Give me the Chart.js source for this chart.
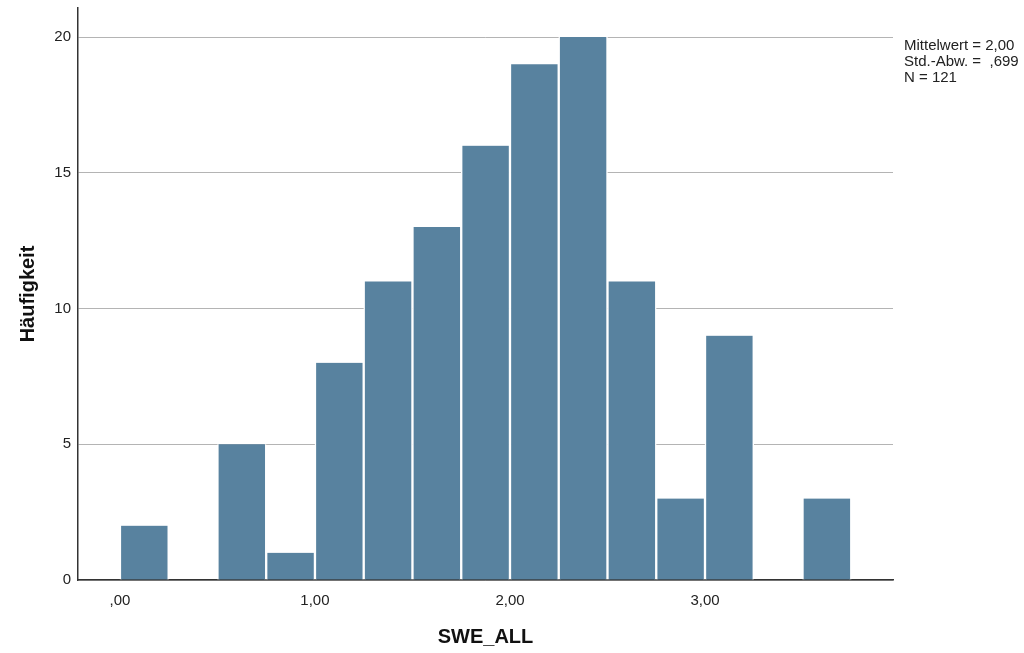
<!DOCTYPE html>
<html>
<head>
<meta charset="utf-8">
<script src="https://cdn.jsdelivr.net/npm/chart.js@4"></script>
<style>
  html, body { margin: 0; padding: 0; background: #fff; }
  #wrap { width: 1024px; height: 653px; }
</style>
</head>
<body>
<div id="wrap"><canvas id="histChart" width="1024" height="653"></canvas></div>
<script>
// bin lower bounds (width 0.25) and counts per bin
const binWidth = 0.25;
const binStarts = [0, 0.25, 0.5, 0.75, 1.0, 1.25, 1.5, 1.75, 2.0, 2.25, 2.5, 2.75, 3.0, 3.25, 3.5];
const counts = [2, 0, 5, 1, 8, 11, 13, 16, 19, 20, 11, 3, 9, 0, 3];
const xTicks = [0, 1, 2, 3];
const yTicks = [0, 5, 10, 15, 20];
const statLines = ['Mittelwert = 2,00', 'Std.-Abw. =  ,699', 'N = 121'];

const font = '"Liberation Sans", Arial, sans-serif';

// German number format like SPSS: 0 -> ",00", 1 -> "1,00"
function fmt(v) {
  return v.toFixed(2).replace('.', ',').replace(/^0,/, ',');
}

const statsBox = {
  id: 'statsBox',
  afterDraw(chart) {
    const ctx = chart.ctx;
    ctx.save();
    ctx.font = '15px ' + font;
    ctx.fillStyle = '#222';
    ctx.textBaseline = 'middle';
    ctx.textAlign = 'left';
    statLines.forEach((line, i) => {
      ctx.fillText(line, chart.chartArea.right + 11, 46 + i * 16);
    });
    ctx.restore();
  }
};

const ctx = document.getElementById('histChart').getContext('2d');
new Chart(ctx, {
  type: 'bar',
  data: {
    datasets: [{
      label: 'SWE_ALL',
      data: binStarts.map((s, i) => ({ x: s + binWidth / 2, y: counts[i] })),
      backgroundColor: '#58829f',
      borderColor: '#ffffff',
      borderWidth: { left: 1.5, right: 1.5, top: 0, bottom: 0 },
      barPercentage: 1,
      categoryPercentage: 1
    }]
  },
  options: {
    responsive: false,
    animation: false,
    layout: { padding: { top: 8, right: 131, left: 0, bottom: 0 } },
    plugins: {
      legend: { display: false },
      tooltip: { enabled: false }
    },
    scales: {
      x: {
        type: 'linear',
        offset: false,
        min: -0.215,
        max: 3.964,
        afterBuildTicks: axis => { axis.ticks = xTicks.map(v => ({ value: v })); },
        afterFit: scale => { scale.height = 73; scale.paddingLeft = 0; scale.paddingRight = 0; },
        grid: { display: false, drawTicks: false, offset: false },
        border: { display: true, color: '#333', width: 1.5 },
        ticks: {
          color: '#222',
          font: { family: font, size: 15 },
          padding: 12,
          maxRotation: 0,
          callback: v => fmt(v)
        },
        title: {
          display: true,
          text: 'SWE_ALL',
          color: '#111',
          font: { family: font, size: 20, weight: 'bold' },
          padding: { top: 0, bottom: 4 }
        }
      },
      y: {
        min: 0,
        max: 21.07,
        afterBuildTicks: axis => { axis.ticks = yTicks.map(v => ({ value: v })); },
        afterFit: scale => { scale.width = 78; scale.paddingTop = 0; scale.paddingBottom = 0; },
        grid: { color: '#b4b4b4', lineWidth: 1, drawTicks: false },
        border: { display: true, color: '#333', width: 1.5 },
        ticks: {
          color: '#222',
          font: { family: font, size: 15 },
          padding: 7
        },
        title: {
          display: true,
          text: 'Häufigkeit',
          color: '#111',
          font: { family: font, size: 20, weight: 'bold' },
          padding: { top: 16, bottom: 0 }
        }
      }
    }
  },
  plugins: [statsBox]
});
</script>
</body>
</html>
